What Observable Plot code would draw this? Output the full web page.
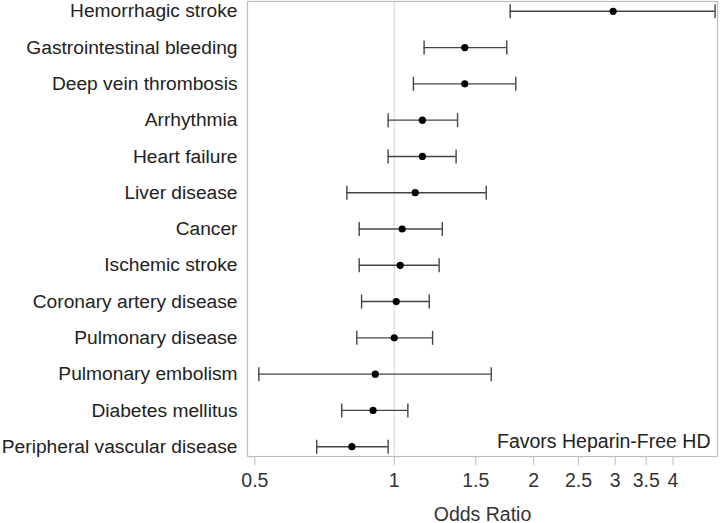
<!DOCTYPE html>
<html>
<head>
<meta charset="utf-8">
<script src="https://cdn.jsdelivr.net/npm/d3@7"></script>
<script src="https://cdn.jsdelivr.net/npm/@observablehq/plot@0.6"></script>
<style>
  html, body { margin: 0; padding: 0; background: #fff; }
</style>
</head>
<body>
<div id="chart"></div>
<script>
const conditions = [
  "Hemorrhagic stroke",
  "Gastrointestinal bleeding",
  "Deep vein thrombosis",
  "Arrhythmia",
  "Heart failure",
  "Liver disease",
  "Cancer",
  "Ischemic stroke",
  "Coronary artery disease",
  "Pulmonary disease",
  "Pulmonary embolism",
  "Diabetes mellitus",
  "Peripheral vascular disease"
];
const oddsRatio = [2.97, 1.42, 1.42, 1.15, 1.15, 1.11, 1.04, 1.03, 1.01, 1.00, 0.91, 0.90, 0.81];
const lower     = [1.78, 1.16, 1.10, 0.97, 0.97, 0.79, 0.84, 0.84, 0.85, 0.83, 0.51, 0.77, 0.68];
const upper     = [4.93, 1.75, 1.83, 1.37, 1.36, 1.58, 1.27, 1.25, 1.19, 1.21, 1.62, 1.07, 0.97];
const xTicks = [0.5, 1, 1.5, 2, 2.5, 3, 3.5, 4];

const data = conditions.map((name, i) => ({name, or: oddsRatio[i], lo: lower[i], hi: upper[i]}));

// vertical line symbol for the error-bar caps (half-length = r)
const capSymbol = {
  draw(context, size) {
    const r = Math.sqrt(size / Math.PI);
    context.moveTo(0, -r);
    context.lineTo(0, r);
  }
};

const chart = Plot.plot({
  width: 720,
  height: 523,
  marginLeft: 247,
  marginRight: 3,
  marginTop: 1,
  marginBottom: 67,
  style: {fontFamily: "Liberation Sans, Arial, sans-serif", fontSize: "19.5px", color: "#333", background: "#fff"},
  x: {
    type: "log",
    domain: [0.482, 4.99]
  },
  y: {
    type: "point",
    domain: conditions,
    padding: 0.27,
    round: false
  },
  marks: [
    Plot.ruleX([1], {stroke: "#dcdcdc", strokeWidth: 1.2}),
    Plot.frame({stroke: "#bdbdbd", strokeWidth: 1.2}),
    Plot.axisX({
      ticks: xTicks,
      tickFormat: d => String(d),
      tickSize: 9,
      tickPadding: 8,
      stroke: "#bdbdbd",
      fill: "#333",
      label: "Odds Ratio",
      labelAnchor: "center",
      labelOffset: 64,
      labelArrow: "none"
    }),
    Plot.axisY({tickSize: 0, tickPadding: 10, fill: "#222", fontSize: 19.2, label: null}),
    Plot.ruleY(data, {y: "name", x1: "lo", x2: "hi", stroke: "#444", strokeWidth: 1.4}),
    Plot.dot(data, {x: "lo", y: "name", symbol: capSymbol, r: 7, stroke: "#444", strokeWidth: 1.4, fill: "none"}),
    Plot.dot(data, {x: "hi", y: "name", symbol: capSymbol, r: 7, stroke: "#444", strokeWidth: 1.4, fill: "none"}),
    Plot.dot(data, {x: "or", y: "name", r: 3.6, fill: "#000", stroke: "none"}),
    Plot.text(["Favors Heparin-Free HD"], {
      frameAnchor: "bottom-right",
      dx: -7,
      dy: -9,
      textAnchor: "end",
      lineAnchor: "bottom",
      fill: "#222",
      fontSize: 19.5
    })
  ]
});
document.getElementById("chart").appendChild(chart);
</script>
</body>
</html>
